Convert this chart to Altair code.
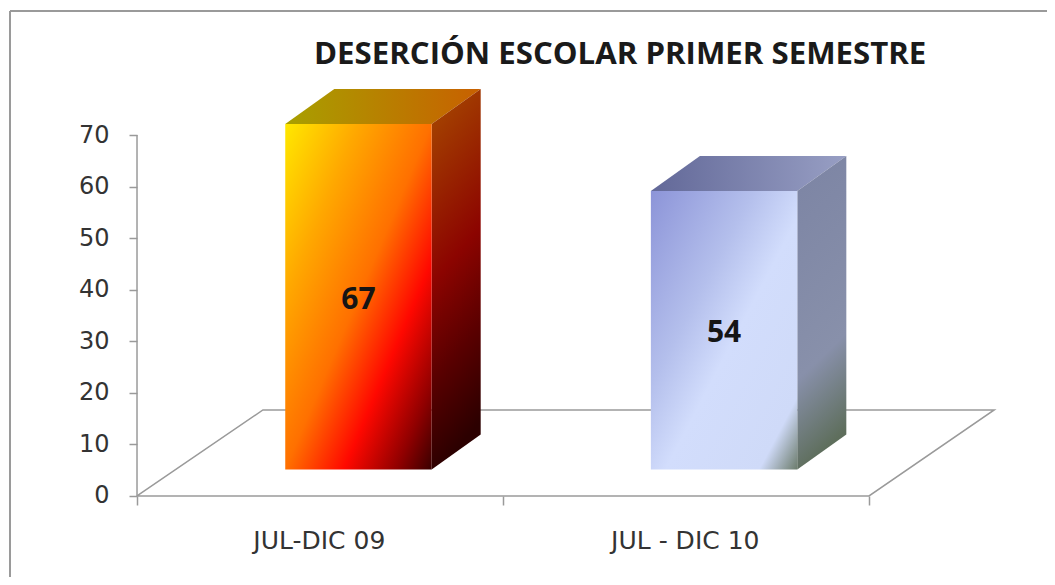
import altair as alt
import pandas as pd

categories = ["JUL-DIC 09", "JUL - DIC 10"]
values = [67, 54]
title = "DESERCIÓN ESCOLAR PRIMER SEMESTRE"
y_ticks = [0, 10, 20, 30, 40, 50, 60, 70]
x_ticks = [0, 1, 2]

# layout of the pseudo-3D scene, in data units
centers = [0.605, 1.604]
half_w = 0.2
base = 5.14
dx = 0.134
dy = 6.8
floor_dx = 0.344
floor_dy = 16.68
X_DOM = [-0.3525, 2.4863]
Y_DOM = [-15.71, 94.63]
GREY = "#9a9a9a"

y_axis = alt.Axis(values=y_ticks, domain=False, grid=False, tickSize=8, tickColor=GREY, tickWidth=1.5,
                  offset=-129, labelFontSize=24, labelFont="DejaVu Sans", labelColor="#333333",
                  labelPadding=20, title=None)
x_axis = alt.Axis(values=x_ticks, domain=False, grid=False, tickSize=9, tickColor=GREY, tickWidth=1.5,
                  offset=-81, labels=False, title=None)


def X(f, **kw):
    return alt.X(f, type="quantitative", scale=alt.Scale(domain=X_DOM, nice=False, zero=False), axis=x_axis, **kw)


def Y(f, **kw):
    return alt.Y(f, type="quantitative", scale=alt.Scale(domain=Y_DOM, nice=False, zero=False), axis=y_axis, **kw)


def grad(stops, x1=0, y1=0, x2=1, y2=1):
    return {"gradient": "linear", "x1": x1, "y1": y1, "x2": x2, "y2": y2,
            "stops": [{"offset": o, "color": c} for o, c in stops]}


front_g = [
    grad([(0, "#ffe800"), (0.25, "#ffa800"), (0.5, "#ff7000"), (0.7, "#ff0800"), (0.88, "#900000"), (1, "#3a0000")]),
    grad([(0, "#8c94d8"), (0.35, "#b4bfec"), (0.55, "#d2ddfc"), (0.87, "#cfdaf8"), (1, "#6c7c6c")]),
]
side_g = [
    grad([(0, "#a84c00"), (0.5, "#8c0400"), (0.75, "#5a0000"), (1, "#2c0000")], 0, 0, 0.15, 1),
    grad([(0, "#7c84a4"), (0.7, "#8890aa"), (1, "#5e6e5c")], 0, 0, 0.15, 1),
]
top_g = [
    grad([(0, "#a8a000"), (1, "#c86000")], 0, 0, 1, 0),
    grad([(0, "#626898"), (1, "#989fc4")], 0, 0, 1, 0),
]

axis_df = pd.DataFrame({"x": [0.0], "y": [0.0]})

# frame
frame_l = alt.Chart(axis_df).mark_rule(color=GREY, strokeWidth=2).encode(
    x=alt.value(2), y=alt.value(3), y2=alt.value(569))
frame_t = alt.Chart(axis_df).mark_rule(color=GREY, strokeWidth=2).encode(
    x=alt.value(2), x2=alt.value(1039), y=alt.value(3))

# floor and axis lines
floor_df = pd.DataFrame({
    "o": [0, 1, 2, 3, 4],
    "x": [0, floor_dx, 2 + floor_dx - 0.002, 2, 0],
    "y": [0, floor_dy, floor_dy, 0, 0],
})
floor = alt.Chart(floor_df).mark_line(color=GREY, strokeWidth=1.5).encode(x=X("x"), y=Y("y"), order="o:O")
y_line_df = pd.DataFrame({"x": [0, 0], "y": [0, 70]})
y_line = alt.Chart(y_line_df).mark_line(color=GREY, strokeWidth=1.5).encode(x=X("x"), y=Y("y"))

layers = [frame_l, frame_t, y_line, floor]

for i, (c, v) in enumerate(zip(centers, values)):
    xl, xr = c - half_w, c + half_w
    front = pd.DataFrame({"x": [xl], "x2": [xr], "y": [base], "y2": [base + v]})
    side = pd.DataFrame({"x": [xr, xr + dx], "y": [base, base + dy], "y2": [base + v, base + v + dy]})
    top = pd.DataFrame({"y": [base + v, base + v + dy], "x": [xl, xl + dx], "x2": [xr, xr + dx]})
    layers.append(alt.Chart(top).mark_area(orient="horizontal", fill=top_g[i], strokeWidth=0).encode(
        y=Y("y"), x=X("x"), x2="x2"))
    layers.append(alt.Chart(side).mark_area(fill=side_g[i], strokeWidth=0).encode(
        x=X("x"), y=Y("y"), y2="y2"))
    layers.append(alt.Chart(front).mark_rect(fill=front_g[i], strokeWidth=0).encode(
        x=X("x"), x2="x2", y=Y("y"), y2="y2"))

labels_df = pd.DataFrame({"x": centers, "y": [base + v / 2 for v in values], "t": [str(v) for v in values]})
layers.append(alt.Chart(labels_df).mark_text(font="Open Sans", fontSize=30, fontWeight="bold", color="#151515", dy=3).encode(
    x=X("x"), y=Y("y"), text="t:N"))

cat_df = pd.DataFrame({"x": [0.498, 1.498], "y": [-8.8, -8.8], "t": categories})
layers.append(alt.Chart(cat_df).mark_text(font="DejaVu Sans", fontSize=25, color="#333333").encode(
    x=X("x"), y=Y("y"), text="t:N"))

chart = alt.layer(*layers).properties(
    width=1039,
    height=569,
    padding=0,
    autosize=alt.AutoSizeParams(type="none"),
    background="white",
    title=alt.TitleParams(title, anchor="start", dx=306, offset=-62, fontSize=31.2, font="Open Sans",
                          fontWeight="bold", color="#1a1a1a"),
).configure_view(stroke=None)

chart.save("out.html", embed_options={"renderer": "svg", "actions": False})
